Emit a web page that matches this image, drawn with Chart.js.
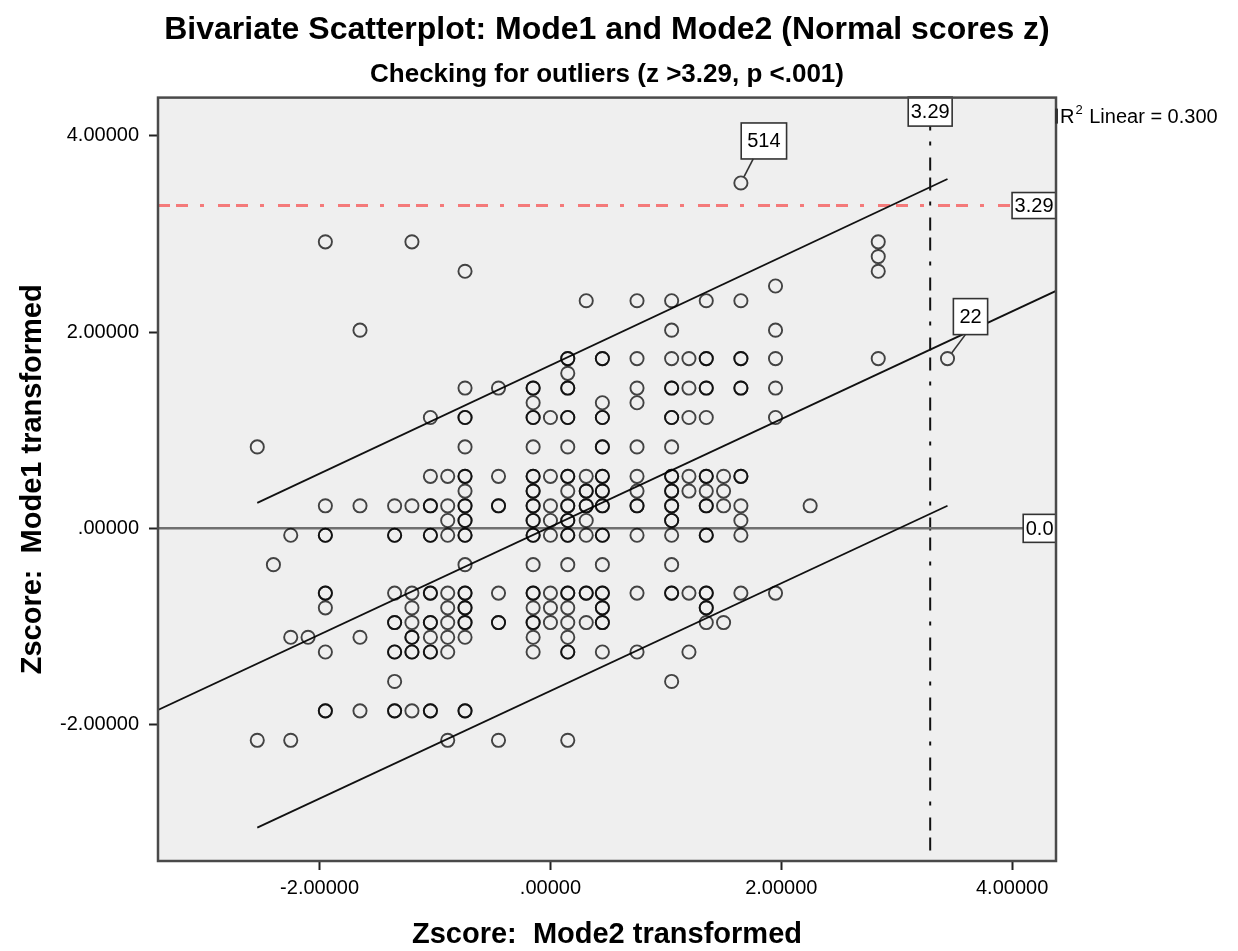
<!DOCTYPE html>
<html>
<head>
<meta charset="utf-8">
<title>Bivariate Scatterplot: Mode1 and Mode2</title>
<script src="https://cdn.jsdelivr.net/npm/chart.js@4"></script>
<style>
  html, body { margin: 0; padding: 0; background: #ffffff; }
  canvas { display: block; }
</style>
</head>
<body>
<canvas id="scatterChart" width="1238" height="951"></canvas>
<script>
// Normal scores (z) for Mode2 (x). For each Mode2 level, the Mode1 z scores seen there.
// A value listed twice is two cases on the same spot, so the circle prints darker.
const mode2Levels = [-2.54, -2.40, -2.25, -2.10, -1.95, -1.65, -1.35, -1.20, -1.04, -0.89,
    -0.74, -0.45, -0.15, 0.00, 0.15, 0.31, 0.45, 0.75, 1.05, 1.20, 1.35, 1.50, 1.65, 1.95,
    2.25, 2.84];

const mode1ByLevel = [
    [0.83, -2.16],
    [-0.37],
    [-0.07, -1.11, -2.16],
    [-1.11],
    [2.92, 0.23, -0.07, -0.07, -0.66, -0.66, -0.81, -1.26, -1.86, -1.86],
    [2.02, 0.23, -1.11, -1.86],
    [0.23, -0.07, -0.07, -0.66, -0.96, -0.96, -1.26, -1.26, -1.56, -1.86, -1.86],
    [2.92, 0.23, -0.66, -0.81, -0.96, -1.11, -1.11, -1.26, -1.26, -1.86],
    [1.13, 0.53, 0.23, 0.23, -0.07, -0.07, -0.66, -0.66, -0.96, -0.96, -1.11, -1.26, -1.26, -1.86, -1.86],
    [0.53, 0.23, 0.08, -0.07, -0.66, -0.81, -0.96, -1.11, -1.26, -2.16],
    [2.62, 1.43, 1.13, 1.13, 0.83, 0.53, 0.53, 0.38, 0.23, 0.23, 0.08, 0.08, -0.07, -0.07,
        -0.37, -0.66, -0.66, -0.81, -0.81, -0.96, -0.96, -1.11, -1.86, -1.86],
    [1.43, 0.53, 0.23, 0.23, -0.66, -0.96, -0.96, -2.16],
    [1.43, 1.43, 1.28, 1.13, 1.13, 0.83, 0.53, 0.53, 0.38, 0.38, 0.23, 0.23, 0.08, 0.08,
        -0.07, -0.07, -0.37, -0.66, -0.66, -0.81, -0.96, -0.96, -1.11, -1.26],
    [1.13, 0.53, 0.23, 0.08, -0.07, -0.66, -0.81, -0.96],
    [1.73, 1.73, 1.58, 1.43, 1.43, 1.13, 1.13, 0.83, 0.53, 0.53, 0.38, 0.23, 0.23, 0.08, 0.08,
        -0.07, -0.07, -0.37, -0.66, -0.66, -0.81, -0.96, -1.11, -1.26, -1.26, -2.16],
    [2.32, 0.53, 0.38, 0.38, 0.23, 0.23, 0.08, -0.07, -0.66, -0.66, -0.96],
    [1.73, 1.73, 1.28, 1.13, 1.13, 0.83, 0.83, 0.53, 0.53, 0.38, 0.38, 0.23, 0.23, -0.07, -0.07,
        -0.37, -0.66, -0.66, -0.81, -0.81, -0.96, -0.96, -1.26],
    [2.32, 1.73, 1.43, 1.28, 0.83, 0.53, 0.38, 0.23, 0.23, -0.07, -0.66, -1.26],
    [2.32, 2.02, 1.73, 1.43, 1.43, 1.13, 1.13, 0.83, 0.53, 0.53, 0.38, 0.38, 0.23, 0.23, 0.08,
        0.08, -0.07, -0.37, -0.66, -0.66, -1.56],
    [1.73, 1.43, 1.13, 0.53, 0.38, -0.66, -1.26],
    [2.32, 1.73, 1.73, 1.43, 1.43, 1.13, 0.53, 0.53, 0.38, 0.23, 0.23, -0.07, -0.07, -0.66,
        -0.66, -0.81, -0.81, -0.96],
    [0.53, 0.38, 0.23, -0.96],
    [2.32, 1.73, 1.73, 1.43, 1.43, 0.53, 0.53, 0.23, 0.08, -0.07, -0.66],
    [2.47, 2.02, 1.73, 1.43, 1.13, -0.66],
    [0.23],
    [2.92, 2.77, 2.62, 1.73]
];

// outlying cases, labelled with their case number
const labelledCases = [
    { id: '514', x: 1.65, y: 3.52 },
    { id: '22', x: 3.44, y: 1.73 }
];

const xRange = [-3.40, 4.38];
const yRange = [-3.39, 4.39];
const xTicks = [-2, 0, 2, 4];
const yTicks = [-2, 0, 2, 4];

// linear fit (R2 = 0.300) and the 95% individual prediction limits
const rSquared = 0.300;
const fitLine = [{ x: -3.40, y: -1.85 }, { x: 4.38, y: 2.42 }];
const upperLimit = [{ x: -2.54, y: 0.26 }, { x: 3.44, y: 3.56 }];
const lowerLimit = [{ x: -2.54, y: -3.05 }, { x: 3.44, y: 0.23 }];

// |z| > 3.29 cut-off (p < .001)
const cutoff = 3.29;

const points = [];
mode2Levels.forEach((x, i) => {
    mode1ByLevel[i].forEach(y => points.push({ x: x, y: y }));
});
labelledCases.forEach(c => points.push({ x: c.x, y: c.y }));

// 4 -> "4.00000", 0 -> ".00000", -2 -> "-2.00000"
const zFormat = v => (v < 0 ? '-' : '') + Math.abs(v).toFixed(5).replace(/^0/, '');

Chart.defaults.font.family = '"Liberation Sans", Arial, sans-serif';
Chart.defaults.color = '#000000';

const FONT = '"Liberation Sans", Arial, sans-serif';

function drawBox(ctx, text, cx, cy, padX, padY) {
    ctx.font = '20px ' + FONT;
    const w = ctx.measureText(text).width + padX * 2;
    const h = 20 + padY * 2;
    ctx.fillStyle = '#ffffff';
    ctx.fillRect(cx - w / 2, cy - h / 2, w, h);
    ctx.strokeStyle = '#333333';
    ctx.lineWidth = 1.6;
    ctx.strokeRect(cx - w / 2, cy - h / 2, w, h);
    ctx.fillStyle = '#000000';
    ctx.textAlign = 'center';
    ctx.textBaseline = 'middle';
    ctx.fillText(text, cx, cy + 1);
    return { w: w, h: h };
}

const plotDecor = {
    id: 'plotDecor',
    beforeDraw(chart) {
        const { ctx, chartArea: a } = chart;
        ctx.save();
        ctx.fillStyle = '#ffffff';
        ctx.fillRect(0, 0, chart.width, chart.height);
        ctx.fillStyle = '#efefef';
        ctx.fillRect(a.left, a.top, a.width, a.height);
        ctx.restore();
    },
    afterDatasetsDraw(chart) {
        const { ctx, chartArea: a, scales } = chart;
        const sx = scales.x, sy = scales.y;
        ctx.save();

        // reference line labels
        const topX = sx.getPixelForValue(cutoff);
        drawBox(ctx, cutoff.toFixed(2), topX, a.top + 14, 2.5, 4.5);
        ctx.font = '20px ' + FONT;
        let w = ctx.measureText(cutoff.toFixed(2)).width + 5;
        drawBox(ctx, cutoff.toFixed(2), a.right - w / 2, sy.getPixelForValue(cutoff), 2.5, 3);
        ctx.font = '20px ' + FONT;
        w = ctx.measureText('0.0').width + 5;
        drawBox(ctx, '0.0', a.right - w / 2, sy.getPixelForValue(0), 2.5, 4);

        // case labels with a short leader to the circle
        labelledCases.forEach(c => {
            const px = sx.getPixelForValue(c.x);
            const py = sy.getPixelForValue(c.y);
            const bx = px + 23, by = py - 42;
            const box = drawBox(ctx, c.id, bx, by, 6, 8);
            const ax = bx - box.w / 2 + 12, ay = by + box.h / 2;
            const d = Math.hypot(ax - px, ay - py);
            ctx.strokeStyle = '#333333';
            ctx.lineWidth = 1.6;
            ctx.beginPath();
            ctx.moveTo(px + (ax - px) / d * 7, py + (ay - py) / d * 7);
            ctx.lineTo(ax, ay);
            ctx.stroke();
        });

        // plot frame
        ctx.strokeStyle = '#4a4a4a';
        ctx.lineWidth = 2.5;
        ctx.strokeRect(a.left, a.top, a.width, a.height);
        ctx.fillStyle = '#333333';
        ctx.fillRect(a.right - 1, a.top + 11, 3, 15);

        // R-squared note beside the plot
        ctx.fillStyle = '#000000';
        ctx.textAlign = 'left';
        ctx.textBaseline = 'middle';
        ctx.font = '20px ' + FONT;
        const tx = a.right + 4, ty = a.top + 20;
        ctx.fillText('R', tx, ty);
        const rw = ctx.measureText('R').width;
        ctx.font = '13px ' + FONT;
        ctx.fillText('2', tx + rw + 1, ty - 7);
        const sw = ctx.measureText('2').width;
        ctx.font = '20px ' + FONT;
        ctx.fillText(' Linear = ' + rSquared.toFixed(3), tx + rw + sw + 2, ty);
        ctx.restore();
    }
};

const lineStyle = { showLine: true, pointRadius: 0, pointHoverRadius: 0, fill: false, tension: 0 };

new Chart(document.getElementById('scatterChart'), {
    type: 'scatter',
    data: {
        datasets: [
            {
                label: 'Cases',
                data: points,
                pointStyle: 'circle',
                pointRadius: 6.6,
                pointHoverRadius: 6.6,
                pointBorderWidth: 1.9,
                pointBorderColor: 'rgba(0, 0, 0, 0.72)',
                pointBackgroundColor: 'rgba(0, 0, 0, 0)'
            },
            Object.assign({ label: 'Fit', data: fitLine, borderColor: '#111111', borderWidth: 1.8 }, lineStyle),
            Object.assign({ label: 'Upper', data: upperLimit, borderColor: '#111111', borderWidth: 1.8 }, lineStyle),
            Object.assign({ label: 'Lower', data: lowerLimit, borderColor: '#111111', borderWidth: 1.8 }, lineStyle),
            Object.assign({
                label: 'Zero',
                data: [{ x: xRange[0], y: 0 }, { x: xRange[1], y: 0 }],
                borderColor: '#707070', borderWidth: 2.5
            }, lineStyle),
            Object.assign({
                label: 'Cut-off y',
                data: [{ x: xRange[0], y: cutoff }, { x: xRange[1], y: cutoff }],
                borderColor: '#f47a7a', borderWidth: 3, borderDash: [12, 6, 12, 12, 4, 14]
            }, lineStyle),
            Object.assign({
                label: 'Cut-off x',
                data: [{ x: cutoff, y: yRange[1] }, { x: cutoff, y: yRange[0] }],
                borderColor: '#111111', borderWidth: 2, borderDash: [13, 7, 13, 11, 4, 12]
            }, lineStyle)
        ]
    },
    plugins: [plotDecor],
    options: {
        responsive: false,
        animation: false,
        devicePixelRatio: 1,
        layout: { padding: { left: 0, right: 182, top: 0, bottom: 0 } },
        plugins: {
            legend: { display: false },
            tooltip: { enabled: false },
            title: {
                display: true,
                fullSize: false,
                text: 'Bivariate Scatterplot: Mode1 and Mode2 (Normal scores z)',
                color: '#000000',
                font: { size: 32, weight: 'bold', lineHeight: 1.2 },
                padding: { top: 11, bottom: 5 }
            },
            subtitle: {
                display: true,
                fullSize: false,
                text: 'Checking for outliers (z >3.29, p <.001)',
                color: '#000000',
                font: { size: 26, weight: 'bold', lineHeight: 1.2 },
                padding: { top: 5, bottom: 7 }
            }
        },
        scales: {
            x: {
                type: 'linear',
                min: xRange[0],
                max: xRange[1],
                afterBuildTicks: s => { s.ticks = xTicks.map(v => ({ value: v })); },
                afterFit: s => { s.height = 90; },
                border: { display: false },
                grid: { drawOnChartArea: false, drawTicks: true, tickLength: 9, tickColor: '#222222', tickWidth: 2 },
                ticks: { color: '#000000', font: { size: 20 }, padding: 6, maxRotation: 0, callback: v => zFormat(v) },
                title: {
                    display: true,
                    text: 'Zscore:  Mode2 transformed',
                    color: '#000000',
                    font: { size: 29, weight: 'bold', lineHeight: 1.1 },
                    padding: { top: 0, bottom: 0 }
                }
            },
            y: {
                type: 'linear',
                min: yRange[0],
                max: yRange[1],
                afterBuildTicks: s => { s.ticks = yTicks.map(v => ({ value: v })); },
                afterFit: s => { s.width = 158; },
                border: { display: false },
                grid: { drawOnChartArea: false, drawTicks: true, tickLength: 9, tickColor: '#222222', tickWidth: 2 },
                ticks: { color: '#000000', font: { size: 20 }, padding: 10, callback: v => zFormat(v) },
                title: {
                    display: true,
                    text: 'Zscore:  Mode1 transformed',
                    color: '#000000',
                    font: { size: 29, weight: 'bold', lineHeight: 1.2 },
                    padding: { top: 16, bottom: 0 }
                }
            }
        }
    }
});
</script>
</body>
</html>
